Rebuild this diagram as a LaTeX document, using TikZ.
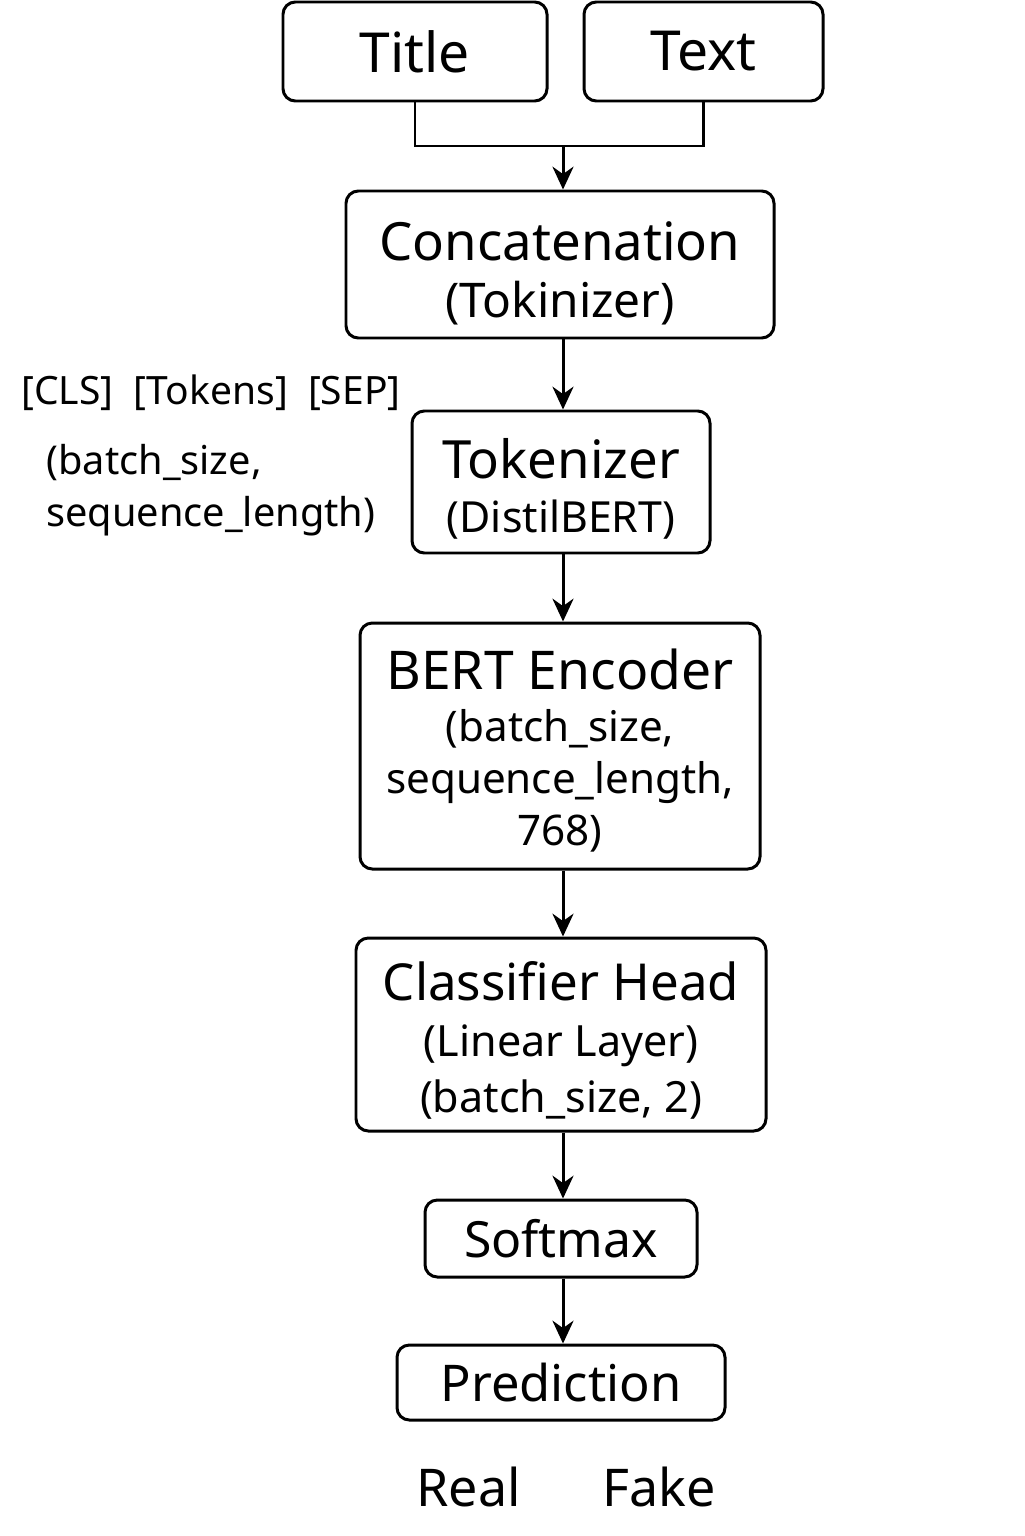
\documentclass[tikz,border=0pt]{standalone}
\usepackage{fontspec}
\setmainfont{Noto Sans}
\usepackage{tikz}
\usetikzlibrary{arrows.meta,positioning}

\begin{document}
\begin{tikzpicture}[line width=0.85pt,
  block/.style={draw,rounded corners=3.5pt,align=center,inner sep=0pt},
  note/.style={align=left,inner sep=0pt},
  flow/.style={-{Stealth[length=6.5pt,width=6pt]}}]

  \useasboundingbox (0,0) rectangle (10.24,-15.36);

  \node[block,minimum width=2.64cm,minimum height=0.99cm,font=\fontsize{15.7}{19}\selectfont] (title) at (4.15,-0.515) {Title};
  \node[block,minimum width=2.39cm,minimum height=0.99cm,font=\fontsize{15.7}{19}\selectfont] (text) at (7.035,-0.515) {Text};

  \node[block,minimum width=4.28cm,minimum height=1.47cm,font=\fontsize{15}{16.3}\selectfont] (concat) at (5.60,-2.645)
    {\rule{0pt}{16pt}Concatenation\\ {\fontsize{13.6}{15}\selectfont (Tokinizer)}};

  \node[block,minimum width=2.98cm,minimum height=1.42cm,font=\fontsize{15}{15.5}\selectfont] (tok) at (5.61,-4.82)
    {\rule{0pt}{15.4pt}Tokenizer\\ {\fontsize{12.2}{15}\selectfont (DistilBERT)}};

  \node[block,minimum width=4.00cm,minimum height=2.46cm,font=\fontsize{12}{14.8}\selectfont] (bert) at (5.60,-7.46)
    {\rule{0pt}{14pt}{\fontsize{15.2}{16}\selectfont BERT Encoder}\\ (batch\_size,\\ sequence\_length,\\ 768)};

  \node[block,minimum width=4.10cm,minimum height=1.93cm,font=\fontsize{12.25}{15.9}\selectfont] (head) at (5.61,-10.345)
    {\rule{0pt}{14.5pt}{\fontsize{14.5}{16}\selectfont Classifier Head}\\ (Linear Layer)\\ (batch\_size, 2)};

  \node[block,minimum width=2.72cm,minimum height=0.77cm,font=\fontsize{14.2}{16}\selectfont] (soft) at (5.61,-12.385) {Softmax};
  \node[block,minimum width=3.28cm,minimum height=0.75cm,font=\fontsize{14.4}{16}\selectfont] (pred) at (5.61,-13.825) {Prediction};

  \node[font=\fontsize{14.8}{16}\selectfont] (real) at (4.685,-14.87) {Real};
  \node[font=\fontsize{14.8}{16}\selectfont] (fake) at (6.59,-14.87) {Fake};

  \node[note,font=\fontsize{11.1}{13}\selectfont] (tokens) at (2.11,-3.93) {[CLS]\ \ [Tokens]\ \ [SEP]};
  \node[note,anchor=west,font=\fontsize{11.3}{14.8}\selectfont] (shape) at (0.45,-4.90) {(batch\_size,\\ sequence\_length)};

  \coordinate (join) at (5.63,-1.46);
  \draw (title.south) |- (join) -| (text.south);
  \draw[flow] (join) -- (join |- concat.north);
  \draw[flow] (concat.south -| join) -- (tok.north -| join);
  \draw[flow] (tok.south -| join) -- (bert.north -| join);
  \draw[flow] (bert.south -| join) -- (head.north -| join);
  \draw[flow] (head.south -| join) -- (soft.north -| join);
  \draw[flow] (soft.south -| join) -- (pred.north -| join);

\end{tikzpicture}
\end{document}
